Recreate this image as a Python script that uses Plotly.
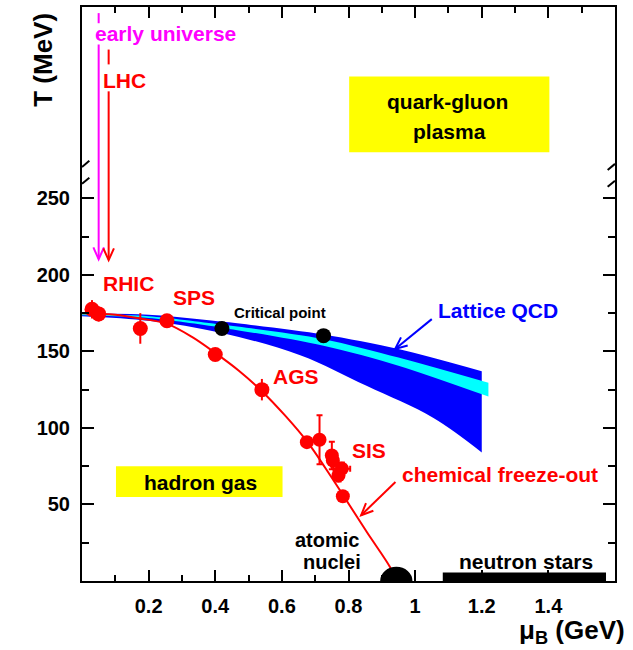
import math
import plotly.graph_objects as go

# ---------------- data ----------------
# freeze-out points (RHIC / SPS / AGS)
fo_mu = [0.03, 0.05, 0.175, 0.255, 0.40, 0.54]
fo_T = [177.5, 174.5, 165.0, 170.0, 148.0, 125.0]
fo_err = [6, 5, 10, 3, 0, 7]

# SIS points
sis_mu = [0.675, 0.713, 0.75, 0.753, 0.78, 0.77, 0.783]
sis_T = [90.7, 92.3, 82.0, 78.8, 73.4, 69.0, 55.4]
sis_errT = [2, 16, 9, 4, 4, 4, 0]
sis_errmu = [0, 0, 0.01, 0, 0.025, 0, 0]

# chemical freeze-out curve
cfo_mu = [0.0, 0.1, 0.175, 0.255, 0.33, 0.40, 0.47, 0.54, 0.61, 0.676, 0.73, 0.784, 0.855, 0.925, 0.945]
cfo_T = [175, 174, 171.5, 168, 159.5, 149, 137.5, 124, 108, 91, 74, 56, 32, 9, 0]

# lattice QCD band (blue) and central band (cyan)
lat_mu = [0.0, 0.2, 0.42, 0.725, 0.95, 1.2]
lat_top = [175, 174, 169.5, 161, 151.5, 137]
latb_mu = [0.0, 0.2, 0.42, 0.655, 0.854, 1.055, 1.2]
lat_bot = [173, 170, 162, 147.5, 127.5, 106.5, 84]
cyan_mu = [0.0, 0.2, 0.42, 0.725, 0.95, 1.22]
cyan_top = [174.6, 173, 167.5, 158, 146, 129.5]
cyan_bot = [173.6, 171.8, 165.5, 153.7, 140.7, 120.5]

# critical points
cp_mu = [0.42, 0.725]
cp_T = [165.0, 160.3]

# axis ticks
ytick_vals = [50, 100, 150, 200, 250]
ytick_minor = [25, 75, 125, 175, 225]
xtick_vals = [0.2, 0.4, 0.6, 0.8, 1.0, 1.2, 1.4]
xtick_text = ["0.2", "0.4", "0.6", "0.8", "1", "1.2", "1.4"]
xtick_minor = [0.1, 0.3, 0.5, 0.7, 0.9, 1.1, 1.3, 1.5]

XR = [0, 1.6]
YR = [0, 375]
W, H = 633, 650
ML, MR, MT, MB = 82, 18, 5, 69
PX_X = (W - ML - MR) / (XR[1] - XR[0])
PX_Y = (H - MT - MB) / (YR[1] - YR[0])

FONT = "Liberation Sans, Arial, sans-serif"
RED = "#FF0000"
BLUE = "#0000FF"
CYAN = "#00FFFF"
MAG = "#FF00FF"
FS = 21

fig = go.Figure()

# blue lattice band (bottom edge, then top edge filled to it)
fig.add_trace(go.Scatter(
    x=latb_mu, y=lat_bot, mode="lines",
    line=dict(width=0, color=BLUE, shape="spline", smoothing=1.0),
    hoverinfo="skip", showlegend=False))
fig.add_trace(go.Scatter(
    x=lat_mu, y=lat_top, mode="lines", fill="tonexty", fillcolor=BLUE,
    line=dict(width=0, color=BLUE, shape="spline", smoothing=0.8),
    hoverinfo="skip", showlegend=False))
# cyan band
fig.add_trace(go.Scatter(
    x=cyan_mu, y=cyan_bot, mode="lines",
    line=dict(width=0, color=CYAN, shape="spline", smoothing=0.8),
    hoverinfo="skip", showlegend=False))
fig.add_trace(go.Scatter(
    x=cyan_mu, y=cyan_top, mode="lines", fill="tonexty", fillcolor=CYAN,
    line=dict(width=0, color=CYAN, shape="spline", smoothing=0.8),
    hoverinfo="skip", showlegend=False))
# freeze-out curve
fig.add_trace(go.Scatter(
    x=cfo_mu, y=cfo_T, mode="lines", line=dict(color=RED, width=2, shape="spline"),
    showlegend=False))
# data points
fig.add_trace(go.Scatter(
    x=fo_mu, y=fo_T, mode="markers",
    marker=dict(color=RED, size=15),
    error_y=dict(type="data", array=fo_err, color=RED, thickness=2, width=0),
    showlegend=False))
fig.add_trace(go.Scatter(
    x=sis_mu, y=sis_T, mode="markers",
    marker=dict(color=RED, size=14),
    error_y=dict(type="data", array=sis_errT, color=RED, thickness=2, width=3),
    error_x=dict(type="data", array=sis_errmu, color=RED, thickness=2, width=3),
    showlegend=False))
# critical points
fig.add_trace(go.Scatter(
    x=cp_mu, y=cp_T, mode="markers", marker=dict(color="black", size=15),
    showlegend=False))

shapes = []


def seg(x0, y0, x1, y1, color, w=2):
    shapes.append(dict(type="line", xref="x", yref="y", x0=x0, y0=y0, x1=x1, y1=y1,
                       line=dict(color=color, width=w)))


def vhead(tail, tip, color, L=13, ang=24, w=2):
    dx = (tail[0] - tip[0]) * PX_X
    dy = (tail[1] - tip[1]) * PX_Y
    n = math.hypot(dx, dy)
    ux, uy = dx / n, dy / n
    pts = []
    for s in (1, -1):
        a = math.radians(ang * s)
        rx = ux * math.cos(a) - uy * math.sin(a)
        ry = ux * math.sin(a) + uy * math.cos(a)
        pts.append((tip[0] + rx * L / PX_X, tip[1] + ry * L / PX_Y))
    path = "M {} {} L {} {} L {} {}".format(pts[0][0], pts[0][1], tip[0], tip[1], pts[1][0], pts[1][1])
    shapes.append(dict(type="path", xref="x", yref="y", path=path,
                       line=dict(color=color, width=w)))


# yellow boxes
shapes.append(dict(type="rect", xref="x", yref="y", x0=0.802, x1=1.403, y0=280.1, y1=329.6,
                   fillcolor="#FFFF00", line=dict(width=0), layer="below"))
shapes.append(dict(type="rect", xref="x", yref="y", x0=0.102, x1=0.602, y0=54.9, y1=74.9,
                   fillcolor="#FFFF00", line=dict(width=0), layer="below"))
# atomic nuclei semicircle
shapes.append(dict(type="circle", xref="x", yref="y", x0=0.895, x1=0.992, y0=-9.3, y1=9.3,
                   fillcolor="black", line=dict(width=0)))
# neutron stars bar
shapes.append(dict(type="rect", xref="x", yref="y", x0=1.083, x1=1.573, y0=0, y1=5.5,
                   fillcolor="black", line=dict(width=0)))

# early universe (magenta) arrow
seg(0.05, 371, 0.05, 364.4, MAG)
seg(0.05, 350.5, 0.05, 210.5, MAG)
vhead((0.05, 300), (0.05, 210.2), MAG)
# LHC (red) arrow
seg(0.08, 347.2, 0.08, 337.5, RED)
seg(0.08, 319.9, 0.08, 210, RED)
vhead((0.08, 300), (0.08, 209.6), RED)

# lattice QCD arrow
seg(1.05, 171.1, 0.94, 151.6, BLUE)
vhead((1.05, 171.1), (0.94, 151.6), BLUE)
# chemical freeze-out arrow
seg(0.941, 64.7, 0.838, 43.0, RED)
vhead((0.941, 64.7), (0.838, 43.0), RED)

# axis-break marks
for t in (261, 272):
    shapes.append(dict(type="line", xref="x", yref="y", x0=0, y0=t - 1.5, x1=0.022, y1=t + 2.5,
                       line=dict(color="black", width=2)))
    shapes.append(dict(type="line", xref="x", yref="y", x0=1.578, y0=t - 3.5, x1=1.6, y1=t + 0.5,
                       line=dict(color="black", width=2)))

ann = []


def txt(x, y, s, color="black", size=FS, xref="x", yref="y", **kw):
    d = dict(x=x, y=y, xref=xref, yref=yref, text=s, showarrow=False,
             font=dict(family=FONT, size=size, color=color, weight="bold"),
             xanchor="center", yanchor="middle")
    d.update(kw)
    ann.append(d)


txt(0.25, 357.5, "early universe", MAG)
txt(0.127, 327, "LHC", RED)
txt(0.139, 194.3, "RHIC", RED)
txt(0.337, 185.2, "SPS", RED)
txt(0.643, 133.6, "AGS", RED)
txt(0.863, 85.3, "SIS", RED)
txt(0.595, 175.4, "Critical point", "black", size=15)
txt(1.25, 176.5, "Lattice QCD", BLUE)
txt(1.255, 69.7, "chemical freeze-out", RED)
txt(0.735, 26.5, "atomic", "black", size=20)
txt(0.75, 12.6, "nuclei", "black", size=20)
txt(1.333, 12.6, "neutron stars", "black")
txt(0.355, 64.3, "hadron gas", "black")
txt(1.097, 313.4, "quark-gluon", "black")
txt(1.102, 293.8, "plasma", "black")
# axis titles
txt(-0.0732, 0.908, "T (MeV)", "black", size=26, xref="paper", yref="paper", textangle=-90)
txt(1.0225, -0.0885, "μ<sub>B</sub> (GeV)", "black", size=26, xref="paper", yref="paper",
    xanchor="right")

tickfont = dict(family=FONT, size=20, color="black", weight="bold")
fig.update_layout(
    width=W, height=H, margin=dict(l=ML, r=MR, t=MT, b=MB),
    plot_bgcolor="white", paper_bgcolor="white",
    shapes=shapes, annotations=ann, showlegend=False,
    xaxis=dict(range=XR, showgrid=False, zeroline=False, showline=True, linecolor="black",
               linewidth=2, mirror="allticks", ticks="inside", ticklen=11, tickwidth=2,
               tickcolor="black", tickmode="array", tickvals=xtick_vals, ticktext=xtick_text,
               tickfont=tickfont, ticklabelstandoff=6,
               minor=dict(tickmode="array", tickvals=xtick_minor, ticks="inside", ticklen=6,
                          tickwidth=2, tickcolor="black", showgrid=False)),
    yaxis=dict(range=YR, showgrid=False, zeroline=False, showline=True, linecolor="black",
               linewidth=2, mirror="allticks", ticks="inside", ticklen=12, tickwidth=2,
               tickcolor="black", tickmode="array", tickvals=ytick_vals,
               tickfont=tickfont, ticklabelstandoff=6,
               minor=dict(tickmode="array", tickvals=ytick_minor, ticks="inside", ticklen=7,
                          tickwidth=2, tickcolor="black", showgrid=False)),
)

fig.write_html("out.html", config={"displayModeBar": False},
               post_script="document.body.style.margin='0';document.body.style.overflow='hidden';")
